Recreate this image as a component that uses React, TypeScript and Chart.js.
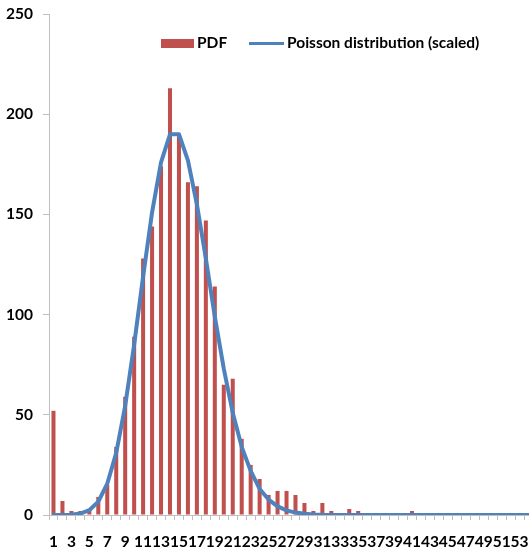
import React, { useEffect, useRef } from "react";
import { Chart, registerables } from "chart.js";

Chart.register(...registerables);

const categories = [
  "1", "2", "3", "4", "5", "6", "7", "8", "9", "10",
  "11", "12", "13", "14", "15", "16", "17", "18", "19", "20",
  "21", "22", "23", "24", "25", "26", "27", "28", "29", "30",
  "31", "32", "33", "34", "35", "36", "37", "38", "39", "40",
  "41", "42", "43", "44", "45", "46", "47", "48", "49", "50",
  "51", "52", "53", "54",
];

const pdfValues = [
  52, 7, 2, 2, 2, 9, 15, 34, 59, 89,
  128, 144, 174, 213, 189, 166, 164, 147, 114, 65,
  68, 38, 25, 18, 10, 12, 12, 10, 6, 2,
  6, 2, 1, 3, 2, 1, 1, 1, 0, 0,
  2, 0, 0, 1, 0, 1, 0, 0, 0, 0,
  0, 0, 0, 1,
];

const poissonValues = [
  0, 0.02, 0.15, 0.7, 2.4, 6.7, 15.6, 31, 54.5, 85,
  119, 151, 176, 190, 190, 177, 155, 128, 99, 73,
  51, 34, 22, 13, 7.7, 4.3, 2.3, 1.2, 0.6, 0.3,
  0.1, 0, 0, 0, 0, 0, 0, 0, 0, 0,
  0, 0, 0, 0, 0, 0, 0, 0, 0, 0,
  0, 0, 0, 0,
];

const yTicks = [0, 50, 100, 150, 200, 250];

const seriesNames = ["PDF", "Poisson distribution (scaled)"];
const barColor = "#c0504d";
const lineColor = "#4f81bd";
const axisColor = "#bfbfbf";
const font = { family: "Lato", weight: "bold" as const, size: 15.5 };

const legendPlugin = {
  id: "customLegend",
  afterDraw(chart: any) {
    const ctx = chart.ctx;
    const ds = chart.data.datasets;
    ctx.save();
    ctx.font = "bold 15.5px Lato";
    ctx.textBaseline = "middle";
    ctx.textAlign = "left";
    const y = 43;
    ctx.fillStyle = ds[0].backgroundColor;
    ctx.fillRect(161, 39, 33, 9);
    ctx.fillStyle = "#000";
    ctx.fillText(ds[0].label, 197, y);
    ctx.strokeStyle = ds[1].borderColor;
    ctx.lineWidth = 3;
    ctx.beginPath();
    ctx.moveTo(249, y + 0.5);
    ctx.lineTo(284, y + 0.5);
    ctx.stroke();
    ctx.fillStyle = "#000";
    ctx.fillText(ds[1].label, 287, y);
    ctx.restore();
  },
};

export default function App() {
  const canvasRef = useRef<HTMLCanvasElement | null>(null);

  useEffect(() => {
    const canvas = canvasRef.current;
    if (!canvas) return;
    const chart = new Chart(canvas, {
      type: "bar",
      data: {
        labels: categories,
        datasets: [
          {
            type: "bar",
            label: seriesNames[0],
            data: pdfValues,
            backgroundColor: barColor,
            barPercentage: 0.45,
            categoryPercentage: 1,
            order: 2,
          } as any,
          {
            type: "line",
            label: seriesNames[1],
            data: poissonValues,
            borderColor: lineColor,
            backgroundColor: lineColor,
            borderWidth: 4,
            pointRadius: 0,
            tension: 0,
            borderJoinStyle: "round",
            borderCapStyle: "round",
            order: 1,
          } as any,
        ],
      },
      options: {
        animation: false,
        responsive: false,
        maintainAspectRatio: false,
        layout: { padding: { top: 14, left: 0, right: 0, bottom: 0 } },
        plugins: {
          legend: { display: false },
          tooltip: { enabled: false },
        },
        scales: {
          x: {
            offset: true,
            grid: {
              offset: true,
              drawOnChartArea: false,
              drawTicks: true,
              tickLength: 5,
              color: axisColor,
            },
            border: { color: axisColor, width: 1 },
            ticks: {
              autoSkip: false,
              maxRotation: 0,
              minRotation: 0,
              padding: 13,
              color: "#000",
              font,
              callback: (_v: any, i: number) => (i % 2 === 0 ? categories[i] : ""),
            },
            afterFit: (s: any) => {
              s.height = 36;
              s.paddingLeft = 0;
              s.paddingRight = 0;
            },
          },
          y: {
            min: 0,
            max: 250,
            afterBuildTicks: (s: any) => {
              s.ticks = yTicks.map((v) => ({ value: v }));
            },
            grid: {
              drawOnChartArea: false,
              drawTicks: true,
              tickLength: 6,
              color: axisColor,
            },
            border: { color: axisColor, width: 1 },
            ticks: { padding: 10, color: "#000", font },
            afterFit: (s: any) => {
              s.width = 49;
              s.paddingTop = 0;
              s.paddingBottom = 0;
            },
          },
        },
      },
      plugins: [legendPlugin],
    });
    return () => chart.destroy();
  }, []);

  return (
    <div
      style={{
        position: "fixed",
        left: 0,
        top: 0,
        width: 529,
        height: 551,
        overflow: "hidden",
        background: "#fff",
      }}
    >
      <canvas ref={canvasRef} width={533} height={551} style={{ display: "block", width: 533, height: 551 }} />
    </div>
  );
}
